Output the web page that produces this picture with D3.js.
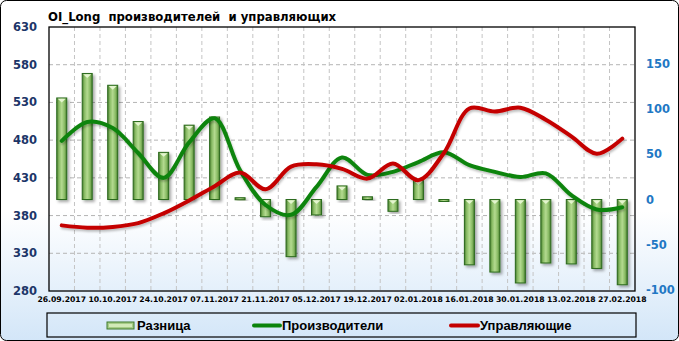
<!DOCTYPE html>
<html>
<head>
<meta charset="utf-8">
<script src="https://cdn.jsdelivr.net/npm/d3@7"></script>
<style>
  body { margin: 0; background: #fff; }
  svg { display: block; }
  .axis-label { font-family: "DejaVu Sans", sans-serif; font-weight: bold; }
</style>
</head>
<body>
<svg id="chart"></svg>
<script>
// Weekly report dates
const dates = ['26.09.2017', '03.10.2017', '10.10.2017', '17.10.2017', '24.10.2017', '31.10.2017',
  '07.11.2017', '14.11.2017', '21.11.2017', '28.11.2017', '05.12.2017', '12.12.2017',
  '19.12.2017', '26.12.2017', '02.01.2018', '09.01.2018', '16.01.2018', '23.01.2018',
  '30.01.2018', '06.02.2018', '13.02.2018', '20.02.2018', '27.02.2018'];

// Разница (right axis)
const diffValues = [112, 139, 126, 86, 52, 82, 91, 2, -19, -63, -17, 15, 3, -13, 21, -2,
  -72, -80, -92, -70, -71, -76, -94];

// Производители (left axis)
const producerValues = [479, 504, 496, 463, 430, 477, 509, 440, 394, 381, 418, 457, 434,
  438, 451, 464, 447, 438, 431, 436, 407, 388, 391];

// Управляющие (left axis)
const managerValues = [367, 364, 365, 370, 383, 400, 419, 437, 415, 445, 448, 442, 429,
  449, 427, 463, 522, 518, 523, 507, 485, 462, 482];

const leftTicks = [280, 330, 380, 430, 480, 530, 580, 630];
const rightTicks = [-100, -50, 0, 50, 100, 150];
const titleText = 'OI_Long  производителей  и управляющих';
const legendNames = ['Разница', 'Производители', 'Управляющие'];

class ComboChart {

  constructor(_config) {
    this.config = {
      parentElement: _config.parentElement,
      containerWidth: 679,
      containerHeight: 341,
      plot: { left: 49, right: 635, top: 27, bottom: 291 }
    };
    this.initVis();
  }

  initVis() {
    let vis = this;
    const p = vis.config.plot;

    vis.svg = d3.select(vis.config.parentElement)
      .attr('width', vis.config.containerWidth)
      .attr('height', vis.config.containerHeight);

    const defs = vis.svg.append('defs');

    // Background gradient (white -> light blue)
    const bg = defs.append('linearGradient')
      .attr('id', 'bgGrad').attr('x1', 0).attr('y1', 0).attr('x2', 0).attr('y2', 1);
    bg.append('stop').attr('offset', '0%').attr('stop-color', '#ffffff');
    bg.append('stop').attr('offset', '62%').attr('stop-color', '#ffffff');
    bg.append('stop').attr('offset', '100%').attr('stop-color', '#d3e6f8');

    // Bar gradient
    const barGrad = defs.append('linearGradient')
      .attr('id', 'barGrad').attr('x1', 0).attr('y1', 0).attr('x2', 1).attr('y2', 0);
    barGrad.append('stop').attr('offset', '0%').attr('stop-color', '#4a7c30');
    barGrad.append('stop').attr('offset', '22%').attr('stop-color', '#88bb64');
    barGrad.append('stop').attr('offset', '50%').attr('stop-color', '#b4da90');
    barGrad.append('stop').attr('offset', '78%').attr('stop-color', '#88bb64');
    barGrad.append('stop').attr('offset', '100%').attr('stop-color', '#4a7c30');

    const shadow = defs.append('filter').attr('id', 'shadow')
      .attr('x', '-50%').attr('y', '-20%').attr('width', '200%').attr('height', '140%');
    shadow.append('feDropShadow')
      .attr('dx', 2).attr('dy', 2).attr('stdDeviation', 1.5)
      .attr('flood-color', '#000').attr('flood-opacity', 0.35);

    const lineShadow = defs.append('filter').attr('id', 'lineShadow')
      .attr('x', '-10%').attr('y', '-10%').attr('width', '120%').attr('height', '130%');
    lineShadow.append('feDropShadow')
      .attr('dx', 1).attr('dy', 2).attr('stdDeviation', 1)
      .attr('flood-color', '#000').attr('flood-opacity', 0.25);

    // Outer frame
    vis.svg.append('rect')
      .attr('x', 0.5).attr('y', 0.5)
      .attr('width', vis.config.containerWidth - 1)
      .attr('height', vis.config.containerHeight - 1)
      .attr('rx', 6)
      .attr('fill', 'url(#bgGrad)')
      .attr('stroke', '#000');

    // Scales
    vis.xScale = d3.scaleBand()
      .domain(dates)
      .range([p.left, p.right])
      .padding(0);

    vis.yLeft = d3.scaleLinear()
      .domain([280, 630])
      .range([p.bottom, p.top]);

    vis.yRight = d3.scaleLinear()
      .domain([-100, 150])
      .range([290.2, 63.5]);

    // Grid lines
    const grid = vis.svg.append('g').attr('class', 'grid');
    grid.selectAll('.hgrid')
      .data(leftTicks.slice(1, -1))
      .join('line')
      .attr('x1', p.left).attr('x2', p.right)
      .attr('y1', d => vis.yLeft(d)).attr('y2', d => vis.yLeft(d))
      .attr('stroke', '#b4b4b4').attr('stroke-dasharray', '4,3');

    grid.selectAll('.vgrid')
      .data(dates.slice(1))
      .join('line')
      .attr('x1', d => vis.xScale(d)).attr('x2', d => vis.xScale(d))
      .attr('y1', p.top).attr('y2', p.bottom)
      .attr('stroke', '#c4c4c4').attr('stroke-dasharray', '4,3');

    // Left axis labels
    vis.svg.append('g').selectAll('text')
      .data(leftTicks)
      .join('text')
      .attr('class', 'axis-label')
      .attr('x', 37)
      .attr('y', d => vis.yLeft(d) + 4)
      .attr('text-anchor', 'end')
      .attr('fill', '#1c3568')
      .style('font-size', '11.5px')
      .text(d => d);

    // Right axis labels
    vis.svg.append('g').selectAll('text')
      .data(rightTicks)
      .join('text')
      .attr('class', 'axis-label')
      .attr('x', 646)
      .attr('y', d => vis.yRight(d) + 4)
      .attr('fill', '#1f78c4')
      .style('font-size', '11.5px')
      .text(d => d);

    // X labels, every other week
    vis.svg.append('g').selectAll('text')
      .data(dates.filter((d, i) => i % 2 === 0))
      .join('text')
      .attr('class', 'axis-label')
      .attr('x', d => vis.xScale(d) + vis.xScale.bandwidth() / 2)
      .attr('y', 302)
      .attr('text-anchor', 'middle')
      .attr('fill', '#000')
      .style('font-size', '7.7px')
      .text(d => d);

    // Title
    vis.svg.append('text')
      .attr('x', 48)
      .attr('y', 21)
      .attr('fill', '#000')
      .style('font-family', '"DejaVu Sans", sans-serif')
      .style('font-weight', 'bold')
      .style('font-size', '11.7px')
      .style('white-space', 'pre')
      .text(titleText);

    vis.chartArea = vis.svg.append('g');
    vis.renderVis();

    // Plot border on top
    vis.svg.append('rect')
      .attr('x', p.left).attr('y', p.top)
      .attr('width', p.right - p.left).attr('height', p.bottom - p.top)
      .attr('fill', 'none').attr('stroke', '#000').attr('stroke-width', 1.3);

    vis.renderLegend();
  }

  renderVis() {
    let vis = this;
    const bw = 10;
    const barData = dates.map((d, i) => ({ date: d, value: diffValues[i] }));

    // Bars
    const bars = vis.chartArea.append('g').selectAll('.bar')
      .data(barData)
      .join('g')
      .attr('class', 'bar')
      .attr('filter', 'url(#shadow)');

    bars.append('rect')
      .attr('x', d => vis.xScale(d.date) + (vis.xScale.bandwidth() - bw) / 2)
      .attr('y', d => Math.min(vis.yRight(d.value), vis.yRight(0)))
      .attr('width', bw)
      .attr('height', d => Math.max(2, Math.abs(vis.yRight(d.value) - vis.yRight(0))))
      .attr('fill', 'url(#barGrad)')
      .attr('stroke', '#2b6a1c')
      .attr('stroke-width', 1);

    // Small bevel triangle at the top of each bar
    bars.filter(d => Math.abs(vis.yRight(d.value) - vis.yRight(0)) > 6)
      .append('path')
      .attr('d', d => {
        const x0 = vis.xScale(d.date) + (vis.xScale.bandwidth() - bw) / 2;
        const y0 = Math.min(vis.yRight(d.value), vis.yRight(0));
        return `M${x0 + 1},${y0 + 0.8}L${x0 + bw - 1},${y0 + 0.8}L${x0 + bw / 2},${y0 + 4.5}Z`;
      })
      .attr('fill', '#e4f5cf');

    // Lines
    const cx = d => vis.xScale(d) + vis.xScale.bandwidth() / 2;
    const line = d3.line()
      .x(d => cx(d.date))
      .y(d => vis.yLeft(d.value))
      .curve(d3.curveCatmullRom.alpha(0.5));

    vis.chartArea.append('path')
      .datum(dates.map((d, i) => ({ date: d, value: producerValues[i] })))
      .attr('d', line)
      .attr('fill', 'none')
      .attr('stroke', '#0b840b')
      .attr('stroke-width', 4)
      .attr('stroke-linecap', 'round')
      .attr('filter', 'url(#lineShadow)');

    vis.chartArea.append('path')
      .datum(dates.map((d, i) => ({ date: d, value: managerValues[i] })))
      .attr('d', line)
      .attr('fill', 'none')
      .attr('stroke', '#c40000')
      .attr('stroke-width', 4)
      .attr('stroke-linecap', 'round')
      .attr('filter', 'url(#lineShadow)');
  }

  renderLegend() {
    let vis = this;
    const lg = vis.svg.append('g').attr('class', 'legend');

    lg.append('rect')
      .attr('x', 47).attr('y', 313)
      .attr('width', 589).attr('height', 24)
      .attr('fill', 'none').attr('stroke', '#000').attr('stroke-width', 1.2);

    // Bar swatch
    lg.append('rect')
      .attr('x', 107).attr('y', 322)
      .attr('width', 27).attr('height', 7)
      .attr('fill', '#a6cc86').attr('stroke', '#3f7a2c');
    lg.append('rect')
      .attr('x', 109).attr('y', 324)
      .attr('width', 23).attr('height', 3)
      .attr('fill', '#d2eab8');

    // Line swatches
    lg.append('line')
      .attr('x1', 254).attr('x2', 280).attr('y1', 325.5).attr('y2', 325.5)
      .attr('stroke', '#0b840b').attr('stroke-width', 4).attr('stroke-linecap', 'round');
    lg.append('line')
      .attr('x1', 451).attr('x2', 478).attr('y1', 325.5).attr('y2', 325.5)
      .attr('stroke', '#c40000').attr('stroke-width', 4).attr('stroke-linecap', 'round');

    lg.selectAll('.legend-text')
      .data(legendNames)
      .join('text')
      .attr('class', 'legend-text')
      .attr('x', (d, i) => [137, 282, 480][i])
      .attr('y', 330)
      .attr('fill', '#000')
      .style('font-family', '"Liberation Sans", Arial, sans-serif')
      .style('font-weight', 'bold')
      .style('font-size', '13px')
      .text(d => d);
  }
}

const chart = new ComboChart({ parentElement: '#chart' });
</script>
</body>
</html>
